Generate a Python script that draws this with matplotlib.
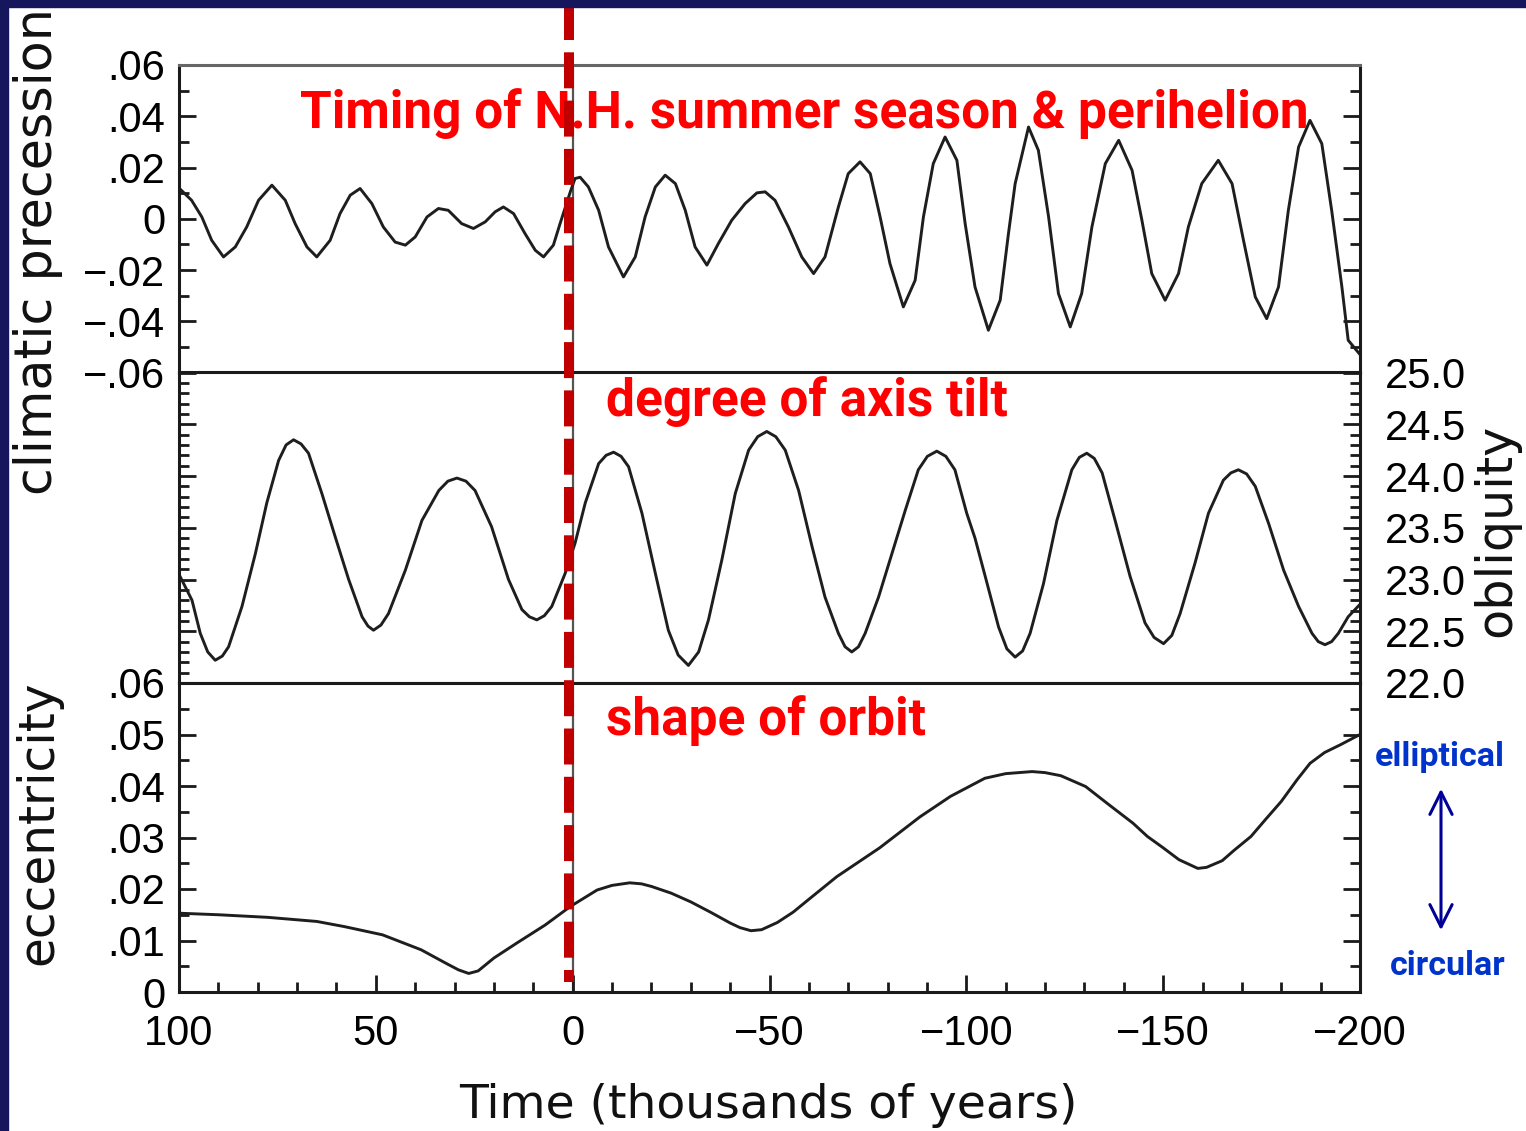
import matplotlib
matplotlib.use('Agg')
import matplotlib.pyplot as plt
import matplotlib.transforms as mtransforms
from matplotlib.lines import Line2D
from matplotlib.patches import Rectangle, FancyArrowPatch

# climatic precession (time in kyr, 100 = future ... -200 = past)
prec_time = [100, 96.8, 94.2, 91.7, 88.7, 85.7, 82.8, 79.8, 76.4, 73.0, 70.5, 67.5,
             65.0, 61.6, 59.1, 56.5, 54.0, 51.0, 48.1, 45.1, 42.5, 40.0, 37.0, 34.1,
             31.6, 28.2, 25.2, 22.2, 19.7, 17.6, 15.0, 12.1, 9.5, 7.4, 4.9, 3.2, 0.6,
             -0.6, -1.9, -4.0, -6.6, -9.1, -12.9, -15.9, -18.4, -21.0, -23.5, -26.1,
             -28.6, -31.1, -34.1, -37.0, -40.4, -43.8, -46.8, -48.9, -51.4, -54.8,
             -58.2, -61.2, -64.1, -67.5, -70.0, -73.0, -75.6, -78.1, -80.6, -84.0,
             -87.0, -89.1, -91.6, -94.6, -97.6, -99.7, -102.2, -105.6, -108.6, -110.7,
             -112.4, -115.8, -118.3, -120.9, -123.4, -126.4, -129.3, -131.9, -135.3,
             -138.7, -142.1, -144.6, -147.1, -150.5, -153.9, -156.4, -159.8, -164.0,
             -167.5, -170.4, -173.4, -176.3, -179.3, -181.8, -184.4, -187.3, -190.3,
             -192.8, -195.4, -197.0, -200]
prec_val = [0.012, 0.0072, 0.0007, -0.0084, -0.0149, -0.011, -0.0032, 0.0072, 0.0131,
            0.0072, -0.0019, -0.011, -0.0149, -0.0084, 0.002, 0.0092, 0.0118, 0.0059,
            -0.0032, -0.0091, -0.0103, -0.0071, 0.0007, 0.004, 0.0033, -0.0019, -0.0038,
            -0.0012, 0.0027, 0.0046, 0.002, -0.0058, -0.0123, -0.0149, -0.0103, -0.0019,
            0.0105, 0.0157, 0.0162, 0.0124, 0.0033, -0.011, -0.0227, -0.0149, 0.0007,
            0.0124, 0.017, 0.0137, 0.0033, -0.011, -0.0181, -0.0097, -0.0006, 0.0059,
            0.0101, 0.0105, 0.0072, -0.0032, -0.0149, -0.0214, -0.0149, 0.0046, 0.0176,
            0.0222, 0.0176, 0.0007, -0.0175, -0.0344, -0.024, 0.0007, 0.0215, 0.0319,
            0.0228, -0.0019, -0.0266, -0.0435, -0.0318, -0.0058, 0.0137, 0.0358, 0.0267,
            0.0007, -0.0292, -0.0422, -0.0292, -0.0032, 0.0215, 0.0306, 0.0189, -0.0006,
            -0.0214, -0.0318, -0.0214, -0.0032, 0.0137, 0.0228, 0.0137, -0.0084, -0.0305,
            -0.039, -0.0266, 0.0033, 0.028, 0.0384, 0.0293, 0.0033, -0.0266, -0.0474,
            -0.053]

# obliquity (degrees)
obl_time = [100, 96.7, 94.6, 92.7, 90.8, 89.0, 87.4, 84.0, 80.6, 77.7, 74.7, 72.8, 70.9,
            69.0, 67.1, 63.7, 60.3, 56.9, 53.5, 52.0, 50.6, 48.7, 46.8, 42.5, 38.3, 34.0,
            31.7, 29.4, 27.1, 24.8, 20.6, 16.3, 12.9, 11.0, 9.1, 7.2, 5.3, 1.9, -0.6,
            -3.2, -6.6, -8.5, -10.4, -12.3, -14.2, -17.6, -21.0, -24.3, -26.8, -29.4,
            -32.0, -34.5, -37.9, -41.3, -44.7, -47.0, -49.3, -51.6, -54.0, -57.4, -60.8,
            -64.1, -67.5, -69.2, -70.9, -72.6, -74.3, -77.7, -81.1, -84.5, -87.8, -90.1,
            -92.5, -94.8, -97.1, -100.1, -102.2, -104.8, -108.2, -110.3, -112.4, -114.3,
            -116.2, -119.6, -123.0, -126.8, -128.7, -130.6, -132.5, -134.5, -137.8,
            -141.6, -145.4, -147.7, -150.1, -152.2, -154.3, -158.1, -161.5, -165.3,
            -167.2, -169.1, -171.2, -173.4, -176.8, -180.6, -184.4, -187.8, -189.4,
            -191.1, -192.8, -194.5, -197.0, -200]
obl_val = [23.05, 22.80, 22.48, 22.30, 22.22, 22.26, 22.35, 22.74, 23.25, 23.74, 24.15,
           24.30, 24.35, 24.31, 24.22, 23.83, 23.41, 23.00, 22.64, 22.55, 22.51, 22.56,
           22.67, 23.09, 23.57, 23.86, 23.95, 23.98, 23.95, 23.86, 23.51, 23.00, 22.71,
           22.64, 22.61, 22.65, 22.74, 23.06, 23.35, 23.74, 24.12, 24.20, 24.23, 24.19,
           24.09, 23.64, 23.06, 22.51, 22.27, 22.17, 22.30, 22.61, 23.19, 23.83, 24.25,
           24.38, 24.43, 24.38, 24.25, 23.86, 23.32, 22.83, 22.48, 22.35, 22.30, 22.35,
           22.48, 22.83, 23.25, 23.67, 24.06, 24.19, 24.24, 24.19, 24.06, 23.64, 23.40,
           23.03, 22.54, 22.33, 22.25, 22.31, 22.48, 22.96, 23.57, 24.06, 24.18, 24.22,
           24.17, 24.03, 23.57, 23.03, 22.58, 22.44, 22.38, 22.46, 22.67, 23.16, 23.64,
           23.96, 24.03, 24.06, 24.02, 23.90, 23.54, 23.09, 22.74, 22.48, 22.40, 22.37,
           22.40, 22.48, 22.64, 22.76]

# eccentricity
ecc_time = [100, 90, 77.5, 65, 58, 48.3, 38.5, 32, 29, 26.4, 24, 20, 14.2, 7, 0.6, -6.2,
            -10, -14.5, -17.5, -20, -25, -30, -35, -40, -42.5, -45.3, -48, -52, -56, -60,
            -67.1, -78, -88.2, -96, -104.7, -110, -116.7, -120, -124, -130.3, -136,
            -142.3, -146, -150, -154, -158.8, -161, -165, -168, -172.3, -176, -180, -184,
            -187.3, -191, -195, -200]
ecc_val = [0.0153, 0.0150, 0.0145, 0.0137, 0.0127, 0.0111, 0.0082, 0.0055, 0.0043,
           0.0036, 0.0041, 0.0066, 0.0095, 0.0130, 0.0166, 0.0198, 0.0207, 0.0212,
           0.0210, 0.0205, 0.0192, 0.0175, 0.0155, 0.0134, 0.0125, 0.0119, 0.0121,
           0.0135, 0.0155, 0.0180, 0.0224, 0.0280, 0.0340, 0.0380, 0.0415, 0.0424,
           0.0428, 0.0426, 0.0420, 0.0399, 0.0365, 0.0328, 0.0302, 0.0280, 0.0257,
           0.0240, 0.0242, 0.0255, 0.0275, 0.0302, 0.0335, 0.0370, 0.0412, 0.0444,
           0.0465, 0.0480, 0.0500]

x_ticks = [100, 50, 0, -50, -100, -150, -200]
x_labels = ['100', '50', '0', '\u221250', '\u2212100', '\u2212150', '\u2212200']
prec_ticks = [0.06, 0.04, 0.02, 0, -0.02, -0.04, -0.06]
prec_labels = ['.06', '.04', '.02', '0', '\u2212.02', '\u2212.04', '\u2212.06']
obl_ticks = [22.0, 22.5, 23.0, 23.5, 24.0, 24.5, 25.0]
obl_labels = ['22.0', '22.5', '23.0', '23.5', '24.0', '24.5', '25.0']
ecc_ticks = [0, 0.01, 0.02, 0.03, 0.04, 0.05, 0.06]
ecc_labels = ['0', '.01', '.02', '.03', '.04', '.05', '.06']

W, H = 1526, 1131
plt.rcParams['font.family'] = ['Liberation Sans Narrow', 'Liberation Sans', 'DejaVu Sans']
fig = plt.figure(figsize=(W / 100, H / 100), dpi=100)


def fx(px):
    return px / W


def fy(py):
    return 1 - py / H


x0, x1 = 179, 1360
ax_top = fig.add_axes([fx(x0), fy(372.5), (x1 - x0) / W, (372.5 - 65) / H])
ax_mid = fig.add_axes([fx(x0), fy(683), (x1 - x0) / W, (683 - 372.5) / H], sharex=ax_top)
ax_bot = fig.add_axes([fx(x0), fy(992), (x1 - x0) / W, (992 - 683) / H], sharex=ax_top)

line_kw = dict(color='#1e1e1e', lw=2.1, solid_joinstyle='round')
ax_top.plot(prec_time, prec_val, **line_kw)
ax_mid.plot(obl_time, obl_val, **line_kw)
ax_bot.plot(ecc_time, ecc_val, **line_kw)

tick_size = 30
for ax in (ax_top, ax_mid, ax_bot):
    ax.set_xlim(100, -200)
    for s in ax.spines.values():
        s.set_linewidth(2.2)
        s.set_color('#1a1a1a')
    ax.tick_params(which='both', direction='in', left=True, right=True, width=2,
                   color='#1a1a1a', labelsize=tick_size)
    ax.tick_params(which='major', length=12)
    ax.tick_params(which='minor', length=7)
    ax.axvline(0, color='#555555', lw=1.6, zorder=1)
ax_top.spines['top'].set_color('#666666')

for ax in (ax_top, ax_mid):
    ax.tick_params(axis='x', which='both', bottom=False, top=False, labelbottom=False)

ax_top.set_ylim(-0.06, 0.06)
ax_top.set_yticks(prec_ticks, prec_labels)
ax_top.set_yticks([-0.05, -0.03, -0.01, 0.01, 0.03, 0.05], minor=True)
ax_top.tick_params(axis='y', pad=10)

ax_mid.set_ylim(22.0, 25.0)
ax_mid.set_yticks(obl_ticks, obl_labels)
ax_mid.set_yticks([22 + 0.1 * i for i in range(31) if i % 5], minor=True)
ax_mid.tick_params(axis='y', labelleft=False, labelright=True, pad=18)

ax_bot.set_ylim(0, 0.06)
ax_bot.set_yticks(ecc_ticks, ecc_labels)
ax_bot.set_yticks([0.005, 0.015, 0.025, 0.035, 0.045, 0.055], minor=True)
ax_bot.tick_params(axis='y', pad=10)
ax_bot.set_xticks(x_ticks, x_labels)
ax_bot.set_xticks([v for v in range(100, -201, -10) if v % 50], minor=True)
ax_bot.tick_params(axis='x', which='both', bottom=True, top=False, pad=16)

# axis titles
lab_kw = dict(family='DejaVu Sans', color='#111111')
fig.text(fx(38), fy(495), 'climatic precession', rotation=90, ha='center', va='bottom',
         fontsize=36.5, **lab_kw)
fig.text(fx(38), fy(965), 'eccentricity', rotation=90, ha='center', va='bottom',
         fontsize=35, **lab_kw)
fig.text(fx(1496), fy(530), 'obliquity', rotation=90, ha='center', va='center',
         fontsize=35.5, **lab_kw)
fig.text(fx(768), fy(1118), 'Time (thousands of years)', ha='center', va='baseline',
         fontsize=34, **lab_kw)

# red panel notes
red_kw = dict(family='Roboto', weight='bold', color='#ff0000', fontsize=37, zorder=5)
fig.text(fx(300), fy(128), 'Timing of N.H. summer season & perihelion', ha='left', va='baseline', **red_kw)
fig.text(fx(606), fy(416), 'degree of axis tilt', ha='left', va='baseline', **red_kw)
fig.text(fx(606), fy(735), 'shape of orbit', ha='left', va='baseline', **red_kw)

# elliptical / circular
blue_kw = dict(family='Roboto', weight='bold', color='#0033cc', fontsize=24.5)
fig.text(fx(1440), fy(766), 'elliptical', ha='center', va='baseline', **blue_kw)
fig.text(fx(1448), fy(975), 'circular', ha='center', va='baseline', **blue_kw)
arrow = FancyArrowPatch((fx(1441), fy(786)), (fx(1441), fy(933)), transform=fig.transFigure,
                        arrowstyle='<->,head_length=0.8,head_width=0.4', mutation_scale=20,
                        color='#000099', lw=2.2)
fig.add_artist(arrow)

# red dashed "today" line
trans = mtransforms.blended_transform_factory(ax_bot.transData, fig.transFigure)
today = Line2D([0.9, 0.9], [fy(3.6), fy(982)], transform=trans, color='#c00000', lw=7.2,
               linestyle=(0, (3.6, 1.23)), zorder=10)
fig.add_artist(today)

# slide border
border = '#16165c'
fig.add_artist(Rectangle((0, 0), fx(8), 1, transform=fig.transFigure, color=border, zorder=20))
fig.add_artist(Rectangle((0, fy(7)), 1, 7 / H, transform=fig.transFigure, color=border, zorder=20))

fig.savefig('out.png', dpi=100)
